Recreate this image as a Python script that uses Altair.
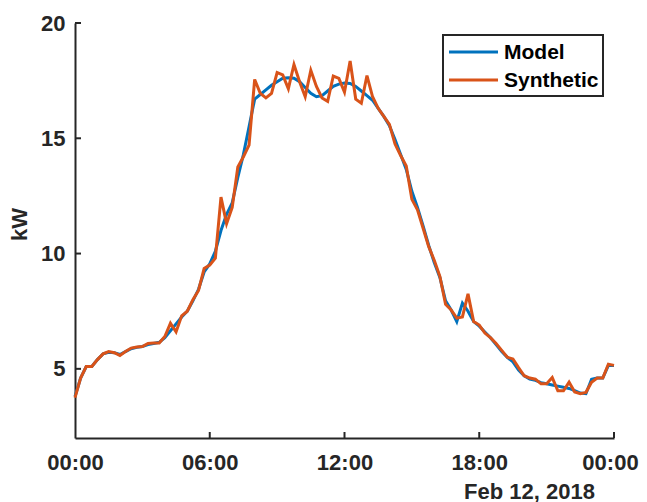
import altair as alt
import pandas as pd

# 15-minute samples over one day (hours since 00:00)
hours = [i * 0.25 for i in range(97)]

model = [
    3.8, 4.6, 5.1, 5.1, 5.4, 5.65, 5.72, 5.7, 5.62, 5.75, 5.87, 5.93,
    5.97, 6.05, 6.1, 6.15, 6.35, 6.65, 6.95, 7.25, 7.5, 7.95, 8.45, 9.2,
    9.55, 10.1, 11.0, 11.7, 12.2, 13.3, 14.3, 15.5, 16.7, 16.9, 17.1, 17.3,
    17.45, 17.6, 17.62, 17.6, 17.45, 17.2, 16.95, 16.8, 16.85, 17.05, 17.25, 17.35,
    17.4, 17.38, 17.25, 17.05, 16.85, 16.65, 16.3, 15.95, 15.55, 14.95, 14.3, 13.65,
    12.7, 12.0, 11.2, 10.35, 9.6, 8.95, 7.95, 7.55, 7.05, 7.85, 7.5, 7.05,
    6.85, 6.6, 6.35, 6.05, 5.75, 5.5, 5.3, 4.95, 4.7, 4.55, 4.5, 4.4,
    4.35, 4.3, 4.25, 4.2, 4.15, 4.05, 3.95, 3.92, 4.55, 4.6, 4.6, 5.15,
    5.15,
]

synthetic = [
    3.75, 4.6, 5.1, 5.1, 5.4, 5.65, 5.75, 5.7, 5.58, 5.75, 5.9, 5.95,
    5.97, 6.1, 6.12, 6.12, 6.4, 6.98, 6.6, 7.3, 7.5, 8.0, 8.4, 9.35,
    9.5, 9.8, 12.45, 11.3, 12.0, 13.75, 14.2, 14.7, 17.55, 16.95, 16.75, 16.95,
    17.85, 17.75, 17.15, 18.2, 17.45, 16.8, 17.95, 17.25, 16.75, 16.6, 17.7, 17.6,
    17.0, 18.35, 16.7, 16.52, 17.72, 16.8, 16.3, 15.95, 15.6, 14.75, 14.25, 13.8,
    12.35, 11.9, 11.1, 10.3, 9.7, 9.0, 7.8, 7.55, 7.2, 7.25, 8.25, 7.05,
    6.9, 6.55, 6.35, 6.1, 5.8, 5.5, 5.43, 5.05, 4.7, 4.6, 4.55, 4.35,
    4.35, 4.62, 4.05, 4.05, 4.42, 4.0, 3.92, 3.98, 4.42, 4.6, 4.6, 5.2,
    5.15,
]

series_names = ["Model", "Synthetic"]
series_colors = ["#0072BD", "#D95319"]

x_tick_values = [0, 6, 12, 18, 24]
y_tick_values = [5, 10, 15, 20]

df = pd.concat([
    pd.DataFrame({"h": hours, "kW": model, "series": "Model"}),
    pd.DataFrame({"h": hours, "kW": synthetic, "series": "Synthetic"}),
])

W, H = 539, 415
FONT = "Liberation Sans"
DARK = "#262626"
FS = 22

x_scale = alt.Scale(domain=[0, 24], nice=False, zero=False)
y_scale = alt.Scale(domain=[2, 20], nice=False, zero=False)

lines = alt.Chart(df).mark_line(strokeWidth=3).encode(
    x=alt.X("h:Q", scale=x_scale,
            axis=alt.Axis(values=x_tick_values, ticks=False, grid=False,
                          labelExpr="datum.value == 24 ? '00:00' : (datum.value < 10 ? '0' : '') + datum.value + ':00'",
                          labelOffset={"expr": "datum.value == 24 ? -4 : 0"},
                          labelPadding=14, labelFlush=False, labelOverlap=False,
                          title="Feb 12, 2018", titleX=454, titleY=60,
                          titleAlign="center", titleBaseline="alphabetic",
                          titleFontSize=FS)),
    y=alt.Y("kW:Q", scale=y_scale,
            axis=alt.Axis(values=y_tick_values, ticks=False, grid=False,
                          labelPadding=10, title="kW", titleX=-49, titleY=201,
                          titleAngle=270, titleAlign="center",
                          titleBaseline="alphabetic", titleFontSize=FS)),
    color=alt.Color("series:N",
                    scale=alt.Scale(domain=series_names, range=series_colors),
                    legend=None),
)

xt = pd.DataFrame({"h": x_tick_values[1:]})
yt = pd.DataFrame({"v": y_tick_values})

x_ticks = alt.Chart(xt).mark_rule(color=DARK, strokeWidth=2).encode(
    x=alt.X("h:Q", scale=x_scale), y=alt.value(H), y2=alt.value(H - 6))
y_ticks = alt.Chart(yt).mark_rule(color=DARK, strokeWidth=2).encode(
    y=alt.Y("v:Q", scale=y_scale), x=alt.value(0), x2=alt.value(6))

# legend (drawn by hand, positioned in plot pixels)
one = pd.DataFrame({"k": [0]})
legend_layers = [
    alt.Chart(one).mark_rect(fill="white", stroke=DARK, strokeWidth=2).encode(
        x=alt.value(368), x2=alt.value(528), y=alt.value(12), y2=alt.value(73))
]
for i, (name, col) in enumerate(zip(series_names, series_colors)):
    yy = 29 + 28 * i
    legend_layers.append(
        alt.Chart(one).mark_rule(color=col, strokeWidth=3).encode(
            x=alt.value(374), x2=alt.value(423), y=alt.value(yy)))
    legend_layers.append(
        alt.Chart(one).mark_text(text=name, font=FONT, fontSize=21, fontWeight="bold",
                                 color="black", align="left", baseline="middle").encode(
            x=alt.value(429), y=alt.value(yy + 1)))

chart = alt.layer(lines, x_ticks, y_ticks, *legend_layers).properties(
    width=W, height=H,
    autosize="none",
    padding={"left": 67, "top": 15, "right": 25, "bottom": 64},
).configure_view(stroke=None).configure_axis(
    domainColor=DARK, domainWidth=2,
    labelFont=FONT, labelFontSize=FS, labelFontWeight="bold", labelColor=DARK,
    titleFont=FONT, titleFontSize=FS, titleFontWeight="bold", titleColor=DARK,
)

chart.save("out.html", embed_options={"renderer": "svg", "actions": False})
